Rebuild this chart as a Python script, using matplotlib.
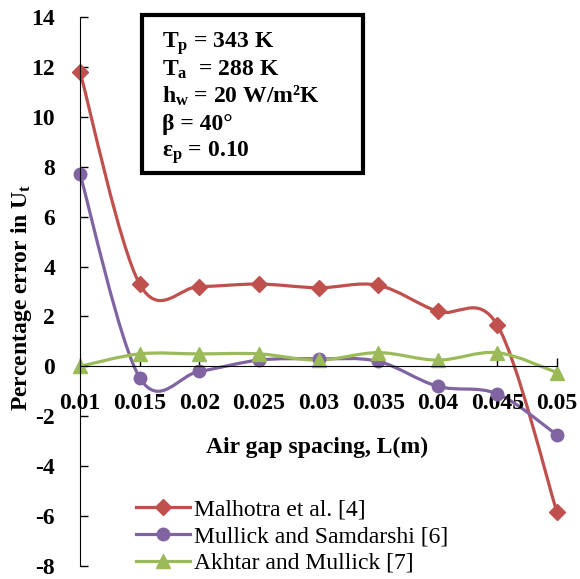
import numpy as np
import matplotlib
matplotlib.use("Agg")
import matplotlib.pyplot as plt
from matplotlib.path import Path
from matplotlib.patches import PathPatch, Rectangle
from matplotlib.lines import Line2D

plt.rcParams['font.family'] = 'Liberation Serif'
plt.rcParams['mathtext.fontset'] = 'custom'
plt.rcParams['mathtext.rm'] = 'Liberation Serif'
plt.rcParams['mathtext.bf'] = 'Liberation Serif:bold'
plt.rcParams['mathtext.it'] = 'Liberation Serif:italic'
plt.rcParams['axes.unicode_minus'] = False

# data
gap = [0.01, 0.015, 0.02, 0.025, 0.03, 0.035, 0.04, 0.045, 0.05]
malhotra = [11.8, 3.3, 3.2, 3.3, 3.15, 3.25, 2.2, 1.65, -5.85]
mullick = [7.7, -0.45, -0.2, 0.25, 0.3, 0.2, -0.8, -1.1, -2.75]
akhtar = [0.0, 0.5, 0.5, 0.5, 0.25, 0.55, 0.25, 0.55, -0.25]

labels = ['Malhotra et al. [4]', 'Mullick and Samdarshi [6]', 'Akhtar and Mullick [7]']
colors = ['#C0504D', '#8064A2', '#9BBB59']
markers = ['D', 'o', '^']
msizes = [8.5, 9, 10]

yticks = list(range(-8, 15, 2))
xticks = gap


def smooth_path(x, y):
    # Excel style smoothed line (Catmull-Rom as cubic bezier)
    p = np.column_stack([x, y])
    n = len(p)
    verts = [p[0]]
    codes = [Path.MOVETO]
    for i in range(n - 1):
        p0 = p[i - 1] if i > 0 else p[i]
        p1 = p[i]
        p2 = p[i + 1]
        p3 = p[i + 2] if i + 2 < n else p[i + 1]
        verts += [p1 + (p2 - p0) / 6, p2 - (p3 - p1) / 6, p2]
        codes += [Path.CURVE4] * 3
    return Path(verts, codes)


fig = plt.figure(figsize=(5.8, 5.79), dpi=100)
ax = fig.add_axes([80 / 580, 1 - 566 / 579, 477 / 580, 549 / 579])

handles = []
for ys, c, m, ms, lab in zip([malhotra, mullick, akhtar], colors, markers, msizes, labels):
    ax.add_patch(PathPatch(smooth_path(gap, ys), fill=False, ec=c, lw=2.3, clip_on=False))
    ax.plot(gap, ys, ls='none', marker=m, ms=ms, color=c, clip_on=False)
    handles.append(Line2D([], [], color=c, lw=2.3, marker=m, ms=ms))

ax.set_xlim(0.01, 0.05)
ax.set_ylim(-8, 14)
ax.set_xticks(xticks)
ax.set_xticklabels(['0.01', '0.015', '0.02', '0.025', '0.03', '0.035', '0.04', '0.045', '0.05'])
ax.set_yticks(yticks)

ax.spines['top'].set_visible(False)
ax.spines['right'].set_visible(False)
ax.spines['bottom'].set_position(('data', 0))
ax.tick_params(axis='both', direction='in', length=6, width=1, labelsize=17)
ax.tick_params(axis='x', pad=19)
ax.tick_params(axis='y', pad=18)
for t in ax.get_xticklabels() + ax.get_yticklabels():
    t.set_fontweight('bold')

fig.text(22 / 580, 1 - 297 / 579, 'Percentage error in U$_\\mathbf{t}$', rotation=90,
         ha='center', va='center', fontsize=17, fontweight='bold')
fig.text(317 / 580, 1 - 447 / 579, 'Air gap spacing, L(m)', ha='center', va='center',
         fontsize=17, fontweight='bold')

# parameter box
fig.patches.append(Rectangle((142 / 580, 1 - 173 / 579), 221 / 580, 158 / 579,
                             transform=fig.transFigure, fill=False, ec='black', lw=3))
box_lines = ['T$_\\mathbf{p}$ = 343 K', 'T$_\\mathbf{a}$  = 288 K', 'h$_\\mathbf{w}$ = 20 W/m²K',
             'β = 40°', 'ε$_\\mathbf{p}$ = 0.10']
for k, s in enumerate(box_lines):
    fig.text(162 / 580, 1 - (48 + 27.2 * k) / 579, s, ha='left', va='baseline',
             fontsize=17, fontweight='bold')

ax.legend(handles, labels, loc='upper left', bbox_to_anchor=(136 / 580, 1 - 499 / 579),
          bbox_transform=fig.transFigure, frameon=False, fontsize=17, borderpad=0,
          borderaxespad=0, handlelength=2.3, handletextpad=0.15, labelspacing=0.22)

fig.savefig('out.png', dpi=100)
